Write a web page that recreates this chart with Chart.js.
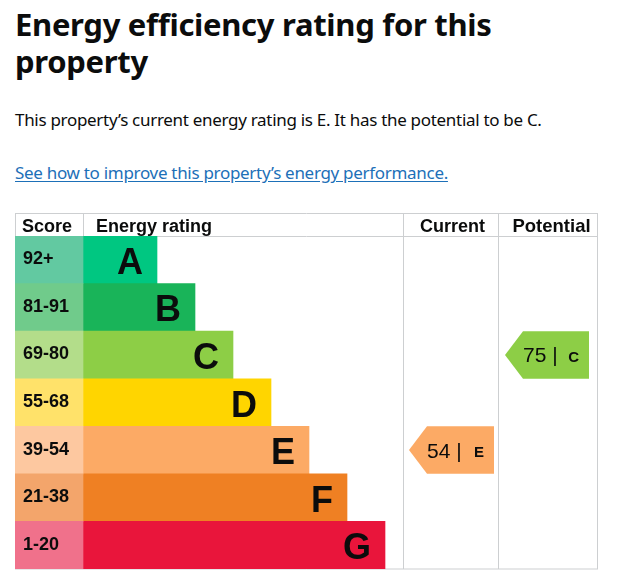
<!DOCTYPE html>
<html lang="en">
<head>
  <meta charset="UTF-8">
  <meta name="viewport" content="width=device-width, initial-scale=1.0">
  <title>Energy efficiency rating</title>
  <script src="https://cdn.jsdelivr.net/npm/chart.js"></script>
  <style>
    body { margin: 0; background: #fff; color: #0b0c0c; font-family: "Noto Sans", sans-serif; }
    h1 { position: absolute; left: 15px; top: 6px; margin: 0; font-size: 31px; line-height: 37px; font-weight: 700; letter-spacing: -0.3px; }
    .lead { position: absolute; left: 15px; top: 107px; margin: 0; font-size: 17px; line-height: 25px; letter-spacing: -0.3px; }
    .improve { position: absolute; left: 15px; top: 160px; margin: 0; font-size: 17px; line-height: 25px; letter-spacing: -0.3px; }
    .improve a { color: #1d70b8; text-underline-offset: 2px; }
    .epc { position: absolute; left: 15px; top: 213px; }
  </style>
</head>
<body>
<h1>Energy efficiency rating for this<br>property</h1>
<p class="lead">This property’s current energy rating is E. It has the potential to be C.</p>
<p class="improve"><a href="#">See how to improve this property’s energy performance.</a></p>

<div class="epc">
  <canvas id="epcChart" width="585" height="357"></canvas>
</div>

<script>
  // ratings and their score bands
  const ratings = ["A", "B", "C", "D", "E", "F", "G"];
  const scoreBands = ["92+", "81-91", "69-80", "55-68", "39-54", "21-38", "1-20"];
  const barLength = [74, 112, 150, 188, 226, 264, 302];
  const bandColors = ["#00c781", "#19b459", "#8dce46", "#ffd500", "#fcaa65", "#ef8023", "#e9153b"];
  const scoreColors = ["#62c9a1", "#70cb8b", "#b3dd8a", "#ffe26a", "#fdc8a0", "#f3a56b", "#f0718b"];
  const currentScore = 54;
  const currentRating = "E";
  const potentialScore = 75;
  const potentialRating = "C";

  // column edges on the x scale
  const COL = { score: -68, rating: 0, current: 321, potential: 416, end: 515 };
  const GRID = "#cdcfd1";
  const INK = "#0b0c0c";

  const epcTable = {
    id: "epcTable",
    beforeDatasetsDraw(chart) {
      const { ctx, chartArea, scales: { x } } = chart;
      const left = x.getPixelForValue(COL.score), right = x.getPixelForValue(COL.end);
      ctx.save();
      ctx.strokeStyle = GRID;
      ctx.lineWidth = 1;
      ctx.beginPath();
      [0.5, chartArea.top + 0.5, chartArea.bottom].forEach(y => {
        ctx.moveTo(left, y); ctx.lineTo(right, y);
      });
      [COL.score, COL.rating].forEach(v => {
        const px = Math.max(0.5, Math.round(x.getPixelForValue(v)) + 0.5);
        ctx.moveTo(px, 0); ctx.lineTo(px, chartArea.top);
      });
      [COL.current, COL.potential, COL.end].forEach(v => {
        const px = Math.round(x.getPixelForValue(v)) - 0.5;
        ctx.moveTo(px, 0); ctx.lineTo(px, chartArea.bottom);
      });
      ctx.stroke();
      ctx.restore();
    },
    afterDatasetsDraw(chart) {
      const { ctx, scales: { x } } = chart;
      const bars = chart.getDatasetMeta(1).data;
      ctx.save();
      ctx.fillStyle = INK;

      // header
      ctx.font = "bold 18px 'Liberation Sans', Arial, sans-serif";
      ctx.textBaseline = "alphabetic";
      ctx.textAlign = "left";
      ctx.fillText("Score", x.getPixelForValue(COL.score) + 7, 19);
      ctx.fillText("Energy rating", x.getPixelForValue(COL.rating) + 13, 19);
      ctx.textAlign = "center";
      ctx.fillText("Current", (x.getPixelForValue(COL.current) + x.getPixelForValue(COL.potential)) / 2 + 1, 19);
      ctx.font = "bold 18.5px 'Liberation Sans', Arial, sans-serif";
      ctx.fillText("Potential", (x.getPixelForValue(COL.potential) + x.getPixelForValue(COL.end)) / 2 + 3, 19);

      // score bands and letters
      bars.forEach((bar, i) => {
        ctx.textAlign = "left";
        ctx.font = "bold 18px 'Liberation Sans', Arial, sans-serif";
        ctx.fillText(scoreBands[i], x.getPixelForValue(COL.score) + 8, bar.y + 4.5);
        ctx.textAlign = "right";
        ctx.font = "bold 36px 'Liberation Sans', Arial, sans-serif";
        ctx.fillText(ratings[i], bar.x - 14, bar.y + 14);
      });

      const arrow = (rating, score, from, to, insetL, insetR) => {
        const i = ratings.indexOf(rating);
        const bar = bars[i];
        const top = bar.y - bar.height / 2, bot = bar.y + bar.height / 2;
        const x0 = x.getPixelForValue(from) + insetL, x1 = x.getPixelForValue(to) - insetR;
        const tip = 18;
        ctx.fillStyle = bandColors[i];
        ctx.beginPath();
        ctx.moveTo(x0, bar.y);
        ctx.lineTo(x0 + tip, top);
        ctx.lineTo(x1, top);
        ctx.lineTo(x1, bot);
        ctx.lineTo(x0 + tip, bot);
        ctx.closePath();
        ctx.fill();
        ctx.fillStyle = INK;
        ctx.textAlign = "left";
        ctx.font = "21px 'Liberation Sans', Arial, sans-serif";
        ctx.fillText(score + " |", x0 + tip, bar.y + 7.5);
        ctx.textAlign = "right";
        ctx.font = "bold 15px 'Liberation Sans', Arial, sans-serif";
        ctx.fillText(rating, x1 - 10, bar.y + 7);
      };
      arrow(currentRating, currentScore, COL.current, COL.potential, 5, 5);
      arrow(potentialRating, potentialScore, COL.potential, COL.end, 6, 9);
      ctx.restore();
    }
  };

  document.addEventListener("DOMContentLoaded", function () {
    const ctx = document.getElementById("epcChart").getContext("2d");
    new Chart(ctx, {
      type: "bar",
      data: {
        labels: ratings,
        datasets: [
          {
            label: "Score",
            data: ratings.map(() => [COL.score, COL.rating]),
            backgroundColor: scoreColors,
            barPercentage: 1,
            categoryPercentage: 1,
            grouped: false
          },
          {
            label: "Energy rating",
            data: barLength,
            backgroundColor: bandColors,
            barPercentage: 1,
            categoryPercentage: 1,
            grouped: false
          }
        ]
      },
      options: {
        indexAxis: "y",
        responsive: false,
        animation: false,
        layout: { padding: { top: 23, bottom: 1, left: 0, right: 0 } },
        plugins: { legend: { display: false }, tooltip: { enabled: false } },
        scales: {
          x: { type: "linear", min: COL.score, max: COL.end + 2, display: false },
          y: { display: false }
        }
      },
      plugins: [epcTable]
    });
  });
</script>
</body>
</html>
